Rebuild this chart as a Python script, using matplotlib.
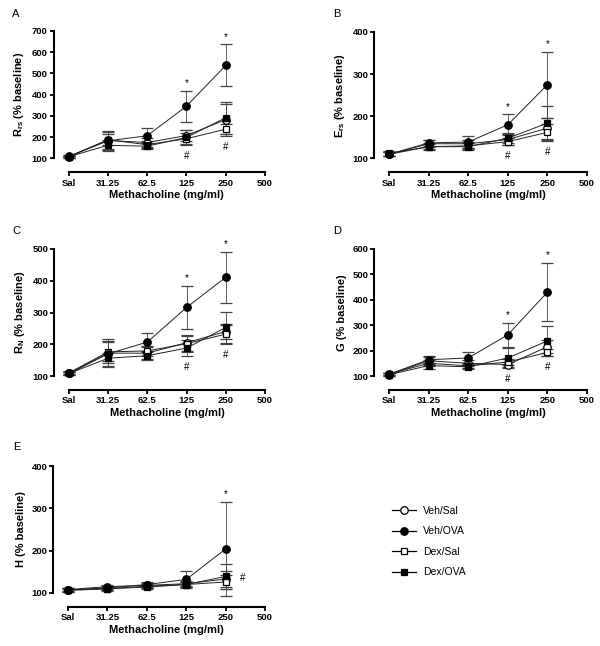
import matplotlib
matplotlib.use('Agg')
import matplotlib.pyplot as plt
from matplotlib.lines import Line2D

plt.rcParams['font.family'] = ['Liberation Sans', 'DejaVu Sans']
plt.rcParams['mathtext.fontset'] = 'custom'
plt.rcParams['mathtext.rm'] = 'Liberation Sans:bold'
plt.rcParams['mathtext.default'] = 'rm'

doses = ['Sal', '31.25', '62.5', '125', '250', '500']
groups = ['Veh/Sal', 'Veh/OVA', 'Dex/Sal', 'Dex/OVA']

# A - Rrs
rrs_mean = {'Veh/Sal': [108, 185, 175, 208, 283],
            'Veh/OVA': [110, 183, 207, 346, 538],
            'Dex/Sal': [108, 188, 165, 193, 238],
            'Dex/OVA': [108, 162, 158, 199, 292]}
rrs_err = {'Veh/Sal': [5, 40, 20, 28, 75],
           'Veh/OVA': [5, 45, 35, 73, 99],
           'Dex/Sal': [5, 25, 15, 25, 22],
           'Dex/OVA': [5, 25, 15, 37, 75]}

# B - Ers
ers_mean = {'Veh/Sal': [110, 135, 135, 145, 172],
            'Veh/OVA': [110, 137, 139, 180, 275],
            'Dex/Sal': [112, 128, 130, 140, 162],
            'Dex/OVA': [110, 128, 128, 148, 184]}
ers_err = {'Veh/Sal': [5, 8, 10, 12, 25],
           'Veh/OVA': [5, 8, 15, 25, 78],
           'Dex/Sal': [5, 6, 8, 8, 20],
           'Dex/OVA': [5, 8, 8, 12, 40]}

# C - RN
rn_mean = {'Veh/Sal': [108, 172, 172, 205, 240],
           'Veh/OVA': [108, 170, 207, 316, 411],
           'Dex/Sal': [110, 176, 179, 202, 232],
           'Dex/OVA': [108, 156, 164, 188, 253]}
rn_err = {'Veh/Sal': [5, 45, 20, 25, 25],
          'Veh/OVA': [5, 40, 30, 68, 80],
          'Dex/Sal': [5, 30, 15, 25, 30],
          'Dex/OVA': [5, 15, 15, 25, 50]}

# D - G
g_mean = {'Veh/Sal': [105, 160, 150, 145, 215],
          'Veh/OVA': [107, 164, 171, 262, 430],
          'Dex/Sal': [108, 150, 140, 155, 193],
          'Dex/OVA': [105, 141, 136, 171, 238]}
g_err = {'Veh/Sal': [5, 15, 12, 10, 25],
         'Veh/OVA': [5, 15, 25, 48, 115],
         'Dex/Sal': [5, 12, 10, 12, 15],
         'Dex/OVA': [5, 12, 10, 38, 60]}

# E - H
h_mean = {'Veh/Sal': [108, 115, 118, 122, 133],
          'Veh/OVA': [107, 112, 120, 132, 204],
          'Dex/Sal': [108, 110, 116, 120, 126],
          'Dex/OVA': [106, 110, 114, 120, 139]}
h_err = {'Veh/Sal': [4, 5, 5, 6, 20],
         'Veh/OVA': [4, 5, 6, 21, 112],
         'Dex/Sal': [4, 4, 5, 5, 16],
         'Dex/OVA': [4, 5, 5, 6, 30]}

style = {'Veh/Sal': ('o', 'white', 5.4),
         'Veh/OVA': ('o', 'black', 5.4),
         'Dex/Sal': ('s', 'white', 5.0),
         'Dex/OVA': ('s', 'black', 5.0)}
draw_order = ['Veh/Sal', 'Dex/Sal', 'Veh/OVA', 'Dex/OVA']

W, H = 600, 646


def rect(l, r, t, b):
    return [l / W, (H - b) / H, (r - l) / W, (b - t) / H]


def panel(fig, box, mean, err, ytop, ylabel, stars, hashes, side_hash=False):
    ax = fig.add_axes(rect(*box))
    x = list(range(5))
    for g in draw_order:
        m, fc, ms = style[g]
        ax.errorbar(x, mean[g], yerr=err[g], color='#222222', lw=0.7,
                    marker=m, ms=ms, mfc=fc, mec='black', mew=0.9,
                    ecolor='#444444', elinewidth=0.6, capsize=4, capthick=0.6,
                    clip_on=False, zorder=3)
    for i in stars:
        top = mean['Veh/OVA'][i] + err['Veh/OVA'][i]
        ax.annotate('*', xy=(i, top), xytext=(0, 5.5), textcoords='offset points',
                    ha='center', va='center', fontsize=7)
    for i in hashes:
        low = min(mean[g][i] - err[g][i] for g in groups)
        ax.annotate('#', xy=(i, low), xytext=(0, -8), textcoords='offset points',
                    ha='center', va='center', fontsize=7)
    if side_hash:
        ax.annotate('#', xy=(4, mean['Dex/OVA'][4]), xytext=(12, -1),
                    textcoords='offset points', ha='center', va='center', fontsize=7)
    ax.set_xlim(0, 5)
    ax.set_ylim(100, ytop)
    ax.set_xticks(range(6))
    ax.set_xticklabels(doses)
    ax.set_yticks(range(100, ytop + 1, 100))
    for s in ['top', 'right']:
        ax.spines[s].set_visible(False)
    ax.spines['left'].set_position(('outward', 10.5))
    ax.spines['bottom'].set_position(('outward', 10))
    for s in ['left', 'bottom']:
        ax.spines[s].set_linewidth(1.5)
    ax.tick_params(length=3, width=1.3, pad=1.5, labelsize=6.8)
    for lab in ax.get_xticklabels() + ax.get_yticklabels():
        lab.set_fontweight('bold')
    ax.set_xlabel('Methacholine (mg/ml)', fontsize=8, fontweight='bold', labelpad=2)
    ax.set_ylabel(ylabel, fontsize=8, fontweight='bold', labelpad=4)
    ax.patch.set_visible(False)
    return ax


fig = plt.figure(figsize=(6, 6.46), dpi=100)

panel(fig, (68.5, 265, 31, 158.5), rrs_mean, rrs_err, 700,
      'R$_{rs}$ (% baseline)', [3, 4], [3, 4])
panel(fig, (389, 587, 32, 158.5), ers_mean, ers_err, 400,
      'E$_{rs}$ (% baseline)', [3, 4], [3, 4])
panel(fig, (69, 265, 249, 376), rn_mean, rn_err, 500,
      'R$_{N}$ (% baseline)', [3, 4], [3, 4])
panel(fig, (389, 587, 249, 376), g_mean, g_err, 600,
      'G (% baseline)', [3, 4], [3, 4])
panel(fig, (68, 265, 466, 593), h_mean, h_err, 400,
      'H (% baseline)', [4], [], side_hash=True)

for letter, px, py in [('A', 12, 14), ('B', 333, 14), ('C', 12, 231),
                       ('D', 333, 231), ('E', 13, 447)]:
    fig.text(px / W, 1 - py / H, letter, fontsize=8, ha='left', va='center')

handles = []
for g in groups:
    m, fc, ms = style[g]
    handles.append(Line2D([], [], color='black', lw=0.9, marker=m, ms=ms,
                          mfc=fc, mec='black', mew=0.9))
fig.legend(handles, groups, loc='upper left', bbox_to_anchor=(392 / W, 1 - 506 / H),
           frameon=False, fontsize=7.5, borderpad=0, borderaxespad=0,
           handlelength=2.3, handletextpad=0.7, labelspacing=1.0)

fig.savefig('out.png', dpi=100)
